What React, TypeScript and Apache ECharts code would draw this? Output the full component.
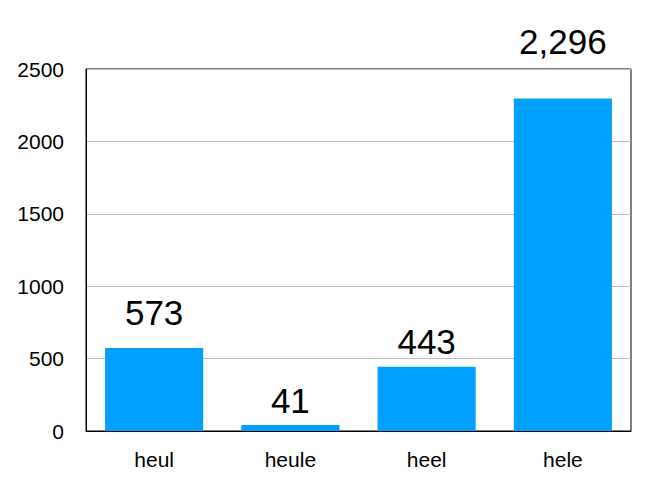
import React, { useEffect, useRef } from "react";
import * as echarts from "echarts";

const categories = ["heul", "heule", "heel", "hele"];
const values = [573, 41, 443, 2296];
const yTicks = [0, 500, 1000, 1500, 2000, 2500];

// label gap above each bar (style only)
const labelGaps = [18, 7, 8, 40];

export default function App() {
  const ref = useRef<HTMLDivElement>(null);
  useEffect(() => {
    const chart = echarts.init(ref.current!, null, { renderer: "svg" });
    chart.setOption({
      animation: false,
      grid: {
        left: 86,
        right: 24,
        top: 69,
        bottom: 58,
        show: true,
        borderColor: "#000",
        borderWidth: 1,
        backgroundColor: "transparent",
      },
      xAxis: {
        type: "category",
        data: categories,
        axisTick: { show: false },
        axisLine: { lineStyle: { color: "#000", width: 1 } },
        axisLabel: {
          color: "#000",
          fontSize: 21,
          fontFamily: "Liberation Sans",
          margin: 18,
        },
      },
      yAxis: {
        type: "value",
        min: yTicks[0],
        max: yTicks[yTicks.length - 1],
        interval: 500,
        axisLine: { show: true, lineStyle: { color: "#000", width: 1 } },
        axisTick: { show: false },
        splitLine: { lineStyle: { color: "#bdbdbd", width: 1 } },
        axisLabel: {
          color: "#000",
          fontSize: 21,
          fontFamily: "Liberation Sans",
          margin: 22,
          formatter: (v: number) => String(v),
        },
      },
      series: [
        {
          type: "bar",
          data: values.map((v, i) => ({ value: v, label: { distance: labelGaps[i] } })),
          barWidth: "72%",
          itemStyle: { color: "#00A0FF" },
          label: {
            show: true,
            position: "top",
            color: "#000",
            fontSize: 35,
            fontFamily: "Liberation Sans",
            formatter: (p: any) => Number(p.value).toLocaleString("en-US"),
          },
        },
      ],
    });
    return () => chart.dispose();
  }, []);
  return (
    <div
      ref={ref}
      style={{ position: "absolute", left: 0, top: 0, width: 655, height: 489, background: "#fff" }}
    />
  );
}
